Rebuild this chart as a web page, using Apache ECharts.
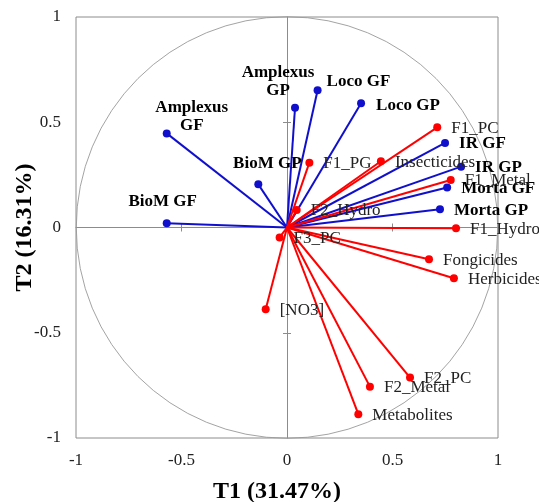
<!DOCTYPE html>
<html>
<head>
<meta charset="utf-8">
<script src="https://cdn.jsdelivr.net/npm/echarts@6/dist/echarts.min.js"></script>
<style>
html,body{margin:0;padding:0;background:#fff;}
#chart{width:539px;height:502px;}
</style>
</head>
<body>
<div id="chart"></div>
<script>
// ---- data ----
const blueNames = ['Amplexus GF','Amplexus GP','BioM GF','BioM GP','Loco GF','Loco GP','IR GF','IR GP','Morta GF','Morta GP'];
const blueX = [-0.570, 0.038, -0.570, -0.136, 0.145, 0.351, 0.749, 0.825, 0.759, 0.725];
const blueY = [0.447, 0.569, 0.020, 0.205, 0.652, 0.590, 0.402, 0.289, 0.190, 0.087];

const redNames = ['F1_PC','F1_PG','Insecticides','F1_Metal','F2_Hydro','F1_Hydro','F3_PC','Fongicides','Herbicides','[NO3]','F2_PC','F2_Metal','Metabolites'];
const redX = [0.712, 0.106, 0.445, 0.776, 0.046, 0.801, -0.035, 0.673, 0.791, -0.101, 0.583, 0.393, 0.338];
const redY = [0.476, 0.308, 0.315, 0.226, 0.083, -0.004, -0.047, -0.151, -0.241, -0.388, -0.713, -0.756, -0.887];

const axisTicks = [-1, -0.5, 0, 0.5, 1];
const xTitle = 'T1 (31.47%)';
const yTitle = 'T2 (16.31%)';

// ---- styling / label placement ----
const BLUE = '#1010cc';
const RED = '#ff0000';
const GRAY = '#8c8c8c';
const FONT = '"Liberation Serif", "Times New Roman", serif';

const labelPlace = {
  'Amplexus GF': {stack: true, offset: [25, -17]},
  'Amplexus GP': {stack: true, offset: [-17, -26]},
  'BioM GF': {center: true, offset: [-4, -22]},
  'BioM GP': {center: true, offset: [9, -21]},
  'Loco GF': {offset: [-5, -9]},
  'Loco GP': {offset: [1, 2]}
};

function pointItems(names, xs, ys, bold) {
  return names.map((n, i) => {
    const p = labelPlace[n];
    const lab = {
      show: true,
      fontFamily: FONT,
      fontSize: 17,
      fontWeight: bold ? 'bold' : 'normal',
      color: bold ? '#000' : '#222',
      position: 'right',
      distance: 10,
      offset: [0, 1],
      formatter: n
    };
    if (p) {
      if (p.stack || p.center) {
        lab.position = 'inside';
        lab.align = 'center';
        lab.verticalAlign = 'middle';
        lab.lineHeight = 18;
      }
      if (p.stack) lab.formatter = n.replace(' ', '\n');
      lab.offset = p.offset;
    }
    return {name: n, value: [xs[i], ys[i]], label: lab};
  });
}
function vectorItems(xs, ys) {
  return xs.map((x, i) => ({coords: [[0, 0], [x, ys[i]]]}));
}

const baseX = {
  type: 'value', min: -1, max: 1, interval: 0.5,
  splitLine: {show: false}
};
const hiddenLabel = {show: false};

const option = {
  animation: false,
  backgroundColor: '#fff',
  grid: {
    left: 76, right: 41, top: 17, bottom: 64,
    show: true, borderColor: GRAY, borderWidth: 1,
    containLabel: false, outerBoundsMode: 'none'
  },
  xAxis: [
    Object.assign({}, baseX, {
      position: 'bottom',
      axisLine: {show: false, onZero: false},
      axisTick: {show: false},
      axisLabel: {
        fontFamily: FONT, fontSize: 17, color: '#222', margin: 14,
        customValues: axisTicks,
        formatter: v => String(v)
      },
      name: xTitle, nameLocation: 'middle', nameGap: 42, nameMoveOverlap: false,
      nameTextStyle: {fontFamily: FONT, fontSize: 24, fontWeight: 'bold', color: '#000', padding: [0, 20, 0, 0]}
    }),
    Object.assign({}, baseX, {
      position: 'bottom',
      axisLine: {show: true, onZero: true, onZeroAxisIndex: 0, lineStyle: {color: GRAY, width: 1}},
      axisTick: {show: true, length: 4, customValues: [-0.5, 0.5], lineStyle: {color: GRAY}},
      axisLabel: hiddenLabel
    }),
    Object.assign({}, baseX, {
      position: 'top',
      axisLine: {show: false, onZero: true, onZeroAxisIndex: 0},
      axisTick: {show: true, length: 4, customValues: [-0.5, 0.5], lineStyle: {color: GRAY}},
      axisLabel: hiddenLabel
    })
  ],
  yAxis: [
    Object.assign({}, baseX, {
      position: 'left',
      axisLine: {show: false, onZero: false},
      axisTick: {show: false},
      axisLabel: {
        fontFamily: FONT, fontSize: 17, color: '#222', margin: 15,
        customValues: axisTicks,
        formatter: v => String(v)
      },
      name: yTitle, nameLocation: 'middle', nameGap: 39, nameMoveOverlap: false,
      nameTextStyle: {fontFamily: FONT, fontSize: 24, fontWeight: 'bold', color: '#000'}
    }),
    Object.assign({}, baseX, {
      position: 'left',
      axisLine: {show: true, onZero: true, onZeroAxisIndex: 0, lineStyle: {color: GRAY, width: 1}},
      axisTick: {show: true, length: 4, customValues: [-0.5, 0.5], lineStyle: {color: GRAY}},
      axisLabel: hiddenLabel
    }),
    Object.assign({}, baseX, {
      position: 'right',
      axisLine: {show: false, onZero: true, onZeroAxisIndex: 0},
      axisTick: {show: true, length: 4, customValues: [-0.5, 0.5], lineStyle: {color: GRAY}},
      axisLabel: hiddenLabel
    })
  ],
  series: [
    {
      type: 'custom',
      coordinateSystem: 'cartesian2d',
      silent: true,
      data: [[0, 0]],
      renderItem: function (params, api) {
        const c = api.coord([0, 0]);
        const s = api.size([1, 1]);
        return {
          type: 'circle',
          shape: {cx: c[0], cy: c[1], r: (s[0] + s[1]) / 2},
          style: {fill: 'none', stroke: '#999', lineWidth: 0.9}
        };
      },
      z: 1
    },
    {
      type: 'lines',
      coordinateSystem: 'cartesian2d',
      data: vectorItems(blueX, blueY),
      lineStyle: {color: BLUE, width: 2, opacity: 1},
      symbol: 'none',
      z: 2
    },
    {
      type: 'lines',
      coordinateSystem: 'cartesian2d',
      data: vectorItems(redX, redY),
      lineStyle: {color: RED, width: 2, opacity: 1},
      symbol: 'none',
      z: 3
    },
    {
      type: 'scatter',
      data: pointItems(blueNames, blueX, blueY, true),
      symbol: 'circle', symbolSize: 8,
      itemStyle: {color: BLUE, opacity: 1},
      z: 4
    },
    {
      type: 'scatter',
      data: pointItems(redNames, redX, redY, false),
      symbol: 'circle', symbolSize: 8,
      itemStyle: {color: RED, opacity: 1},
      z: 5
    }
  ]
};

const chart = echarts.init(document.getElementById('chart'), null, {renderer: 'canvas'});
chart.setOption(option);
</script>
</body>
</html>
